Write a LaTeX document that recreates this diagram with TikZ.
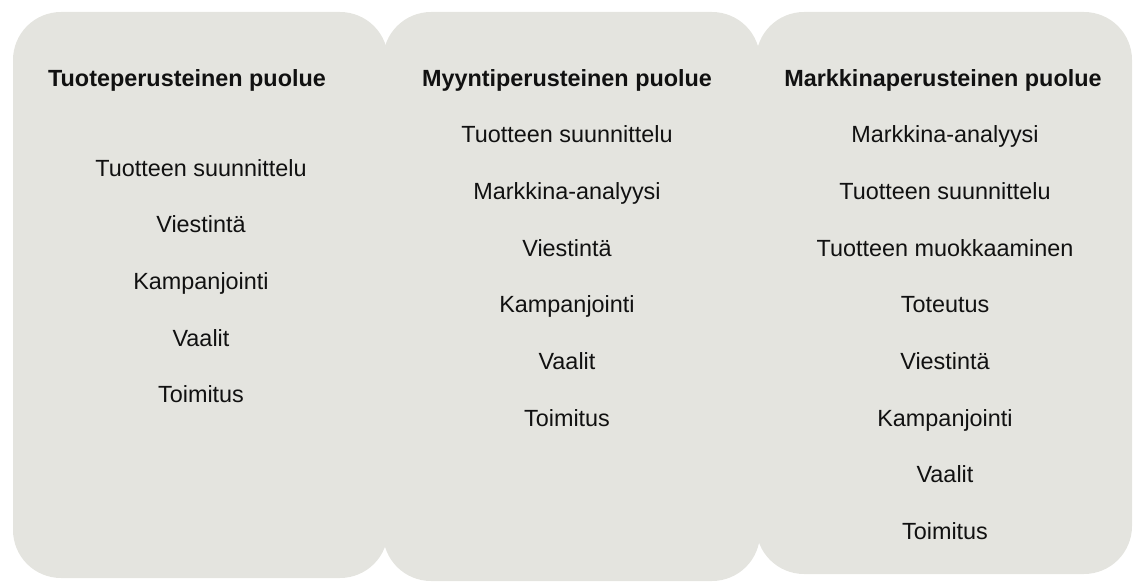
\documentclass[tikz,border=0pt]{standalone}
\usepackage{fontspec}
\setmainfont{Liberation Sans}
\definecolor{panelgrey}{HTML}{E4E4DF}
\definecolor{inkc}{HTML}{111111}
\tikzset{
  panel/.style={fill=panelgrey, draw=none, rounded corners=48pt, inner sep=0pt},
  heading/.style={anchor=base, inner sep=0pt, text=inkc, font=\fontsize{23.4}{28}\selectfont\bfseries},
  item/.style={anchor=base, inner sep=0pt, text=inkc, font=\fontsize{23.4}{28}\selectfont}
}
\begin{document}
\begin{tikzpicture}[x=1pt,y=-1pt]
\useasboundingbox (0,0) rectangle (1138,583);
% panels
\node[panel, minimum width=375pt, minimum height=566pt] (p1) at (200.5,295) {};
\node[panel, minimum width=376pt, minimum height=562pt] (p3) at (944,293) {};
\node[panel, minimum width=377pt, minimum height=569pt] (p2) at (571.5,296.5) {};
% column 1
\node[heading] (h1) at (187,87) {Tuoteperusteinen puolue};
\node[item] (a1) at (201,176) {Tuotteen suunnittelu};
\node[item] (a2) at (201,232.5) {Viestintä};
\node[item] (a3) at (201,289) {Kampanjointi};
\node[item] (a4) at (201,346) {Vaalit};
\node[item] (a5) at (201,402.5) {Toimitus};
% column 2
\node[heading] (h2) at (567,87) {Myyntiperusteinen puolue};
\node[item] (b1) at (567,142.5) {Tuotteen suunnittelu};
\node[item] (b2) at (567,199) {Markkina-analyysi};
\node[item] (b3) at (567,256) {Viestintä};
\node[item] (b4) at (567,312.5) {Kampanjointi};
\node[item] (b5) at (567,369) {Vaalit};
\node[item] (b6) at (567,426) {Toimitus};
% column 3
\node[heading] (h3) at (943,87) {Markkinaperusteinen puolue};
\node[item] (c1) at (945,142.5) {Markkina-analyysi};
\node[item] (c2) at (945,199) {Tuotteen suunnittelu};
\node[item] (c3) at (945,256) {Tuotteen muokkaaminen};
\node[item] (c4) at (945,312.5) {Toteutus};
\node[item] (c5) at (945,369) {Viestintä};
\node[item] (c6) at (945,426) {Kampanjointi};
\node[item] (c7) at (945,482.5) {Vaalit};
\node[item] (c8) at (945,539) {Toimitus};
\end{tikzpicture}
\end{document}
